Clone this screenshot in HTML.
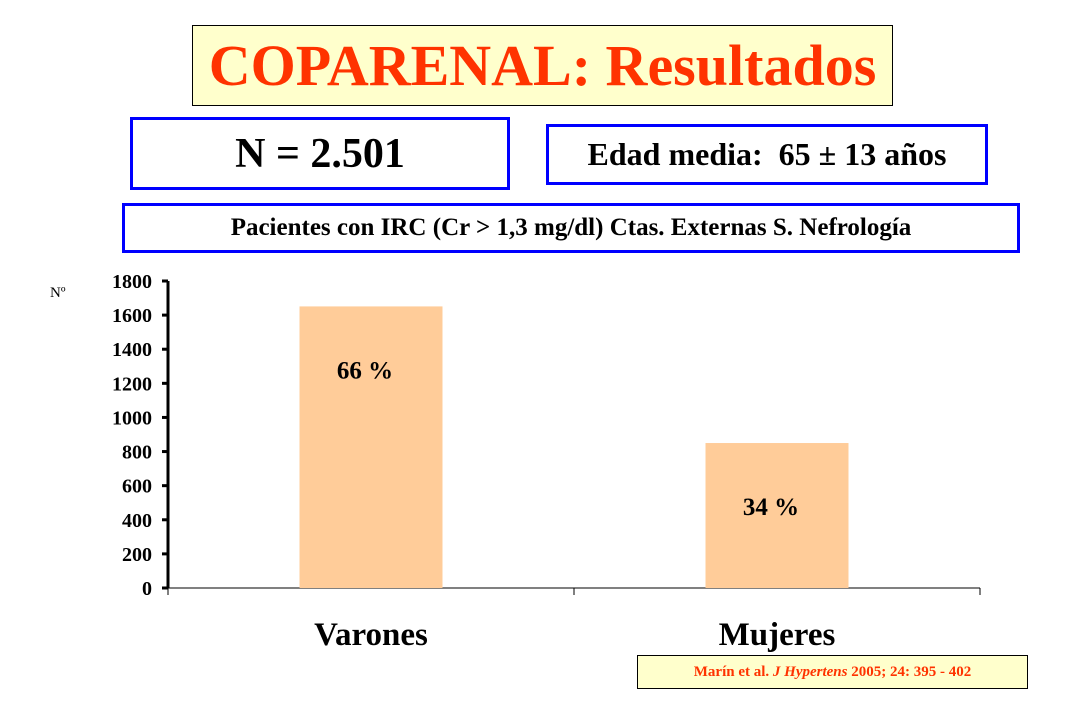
<!DOCTYPE html>
<html><head><meta charset="utf-8"><style>
body{margin:0;width:1080px;height:720px;background:#fff;position:relative;overflow:hidden;font-family:"Liberation Serif",serif}
.b{position:absolute;box-sizing:border-box;display:flex;align-items:center;justify-content:center;font-weight:bold;white-space:nowrap}
</style></head><body>
<div class="b" style="left:192px;top:25px;width:701px;height:81px;background:#ffffcc;border:1px solid #000;color:#ff3300;font-size:58px">COPARENAL: Resultados</div>
<div class="b" style="left:130px;top:117px;width:380px;height:73px;border:3px solid #0000ff;font-size:42px">N = 2.501</div>
<div class="b" style="left:546px;top:124px;width:442px;height:61px;border:3px solid #0000ff;font-size:32px">Edad media:&nbsp; 65 ± 13 años</div>
<div class="b" style="left:122px;top:203px;width:898px;height:50px;border:3px solid #0000ff;font-size:25px">Pacientes con IRC (Cr &gt; 1,3 mg/dl) Ctas. Externas S. Nefrología</div>
<div class="b" style="left:637px;top:655px;width:391px;height:34px;background:#ffffcc;border:1px solid #000;color:#ff3300;font-size:15px">Marín et al.&nbsp;<i>J Hypertens</i>&nbsp;2005; 24: 395 - 402</div>
<svg id="chart" width="1080" height="720" style="position:absolute;left:0;top:0"></svg>
<script>
const categories=["Varones","Mujeres"];
const values=[1651,850];
const pctLabels=["66 %","34 %"];
const yTicks=[0,200,400,600,800,1000,1200,1400,1600,1800];
const NS="http://www.w3.org/2000/svg";
const svg=document.getElementById('chart');
const x0=168,x1=980,y0=588,y1=281,yMax=1800;
const ys=v=>y0-(v/yMax)*(y0-y1);
const bw=(x1-x0)/categories.length;
function mk(t,a,txt){const e=document.createElementNS(NS,t);for(const k in a)e.setAttribute(k,a[k]);if(txt!=null)e.textContent=txt;svg.appendChild(e);return e;}
let e;
e=mk('line',{x1:x0,y1:y1,x2:x0,y2:y0,stroke:'#000','stroke-width':3});


e=mk('line',{x1:x0,y1:y0,x2:x1,y2:y0,stroke:'#000','stroke-width':1});


e=mk('text',{x:50,y:297,'font-size':15,'font-family':'Liberation Serif'},'Nº');


yTicks.forEach(v=>{
 const y=ys(v);
 e=mk('line',{x1:x0-6,y1:y,x2:x0,y2:y,stroke:'#000','stroke-width':3});
 
 
 e=mk('text',{x:152,y:y+7,'text-anchor':'end','font-size':20,'font-weight':'bold','font-family':'Liberation Serif'},String(v));
 
 
});
for(let i=0;i<=categories.length;i++){
 const x=x0+i*bw;
 e=mk('line',{x1:x,y1:y0,x2:x,y2:y0+7,stroke:'#000','stroke-width':1});
 
 
}
categories.forEach((c,i)=>{
 const cx=x0+bw*(i+0.5);
 const w=143;
 e=mk('rect',{x:cx-w/2,y:ys(values[i]),width:w,height:y0-ys(values[i]),fill:'#ffcc99'});
 
 
 e=mk('text',{x:cx-6,y:ys(values[i])+72,'text-anchor':'middle','font-size':25,'font-weight':'bold','font-family':'Liberation Serif'},pctLabels[i]);
 
 
 e=mk('text',{x:cx,y:645,'text-anchor':'middle','font-size':33,'font-weight':'bold','font-family':'Liberation Serif'},c);
 
 
});
</script>
</body></html>
